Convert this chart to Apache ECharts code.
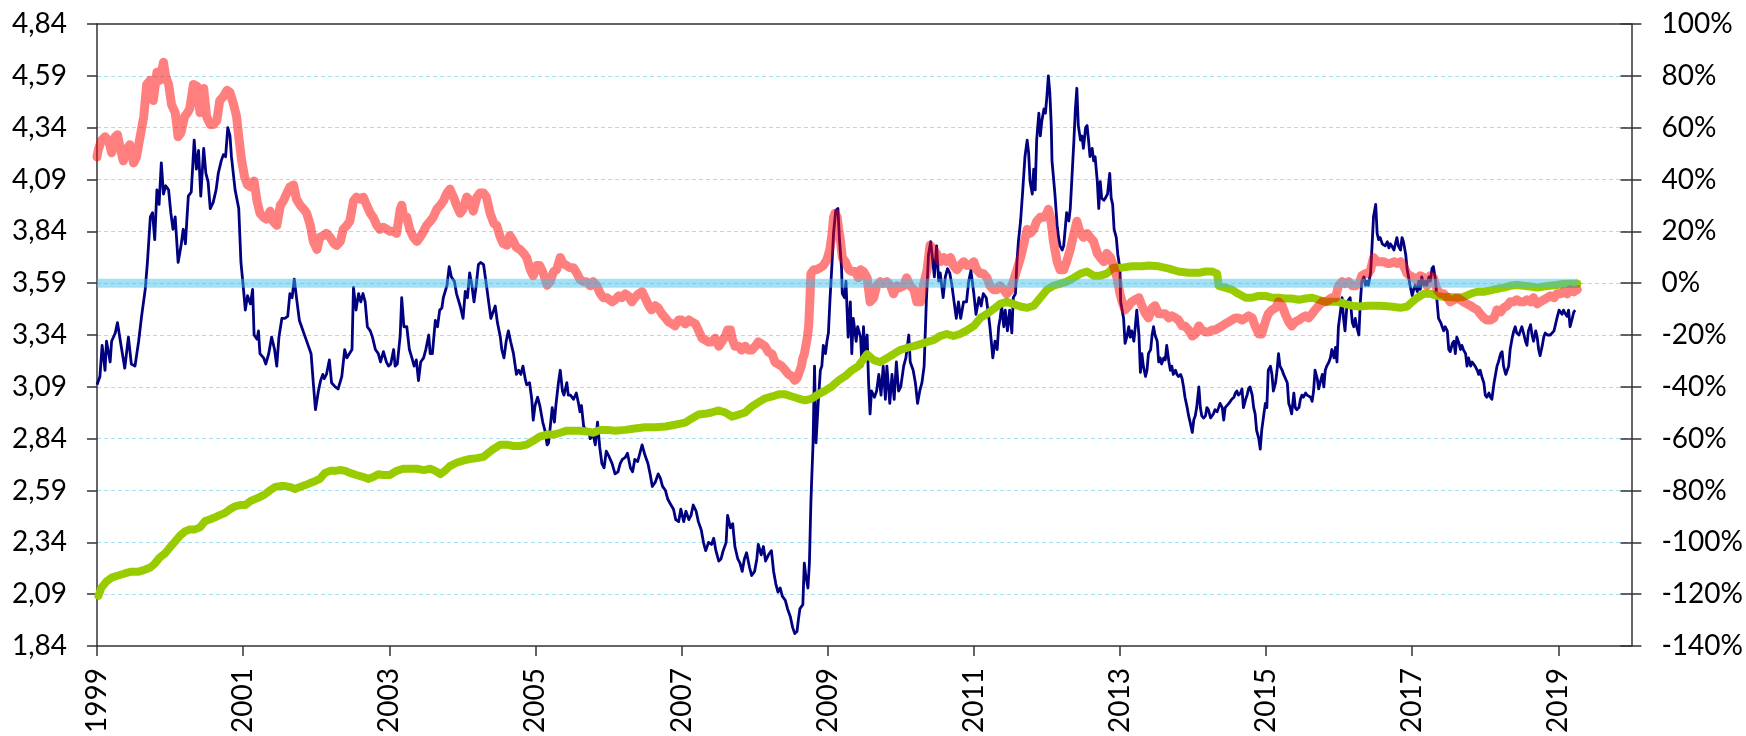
<!DOCTYPE html>
<html><head><meta charset="utf-8">
<script src="https://cdn.jsdelivr.net/npm/echarts@6/dist/echarts.min.js"></script>
<style>html,body{margin:0;padding:0;background:#fff}#c{width:1746px;height:736px}</style>
</head><body><div id="c"></div>
<script>
const yearTicks = [1999, 2001, 2003, 2005, 2007, 2009, 2011, 2013, 2015, 2017, 2019];
const leftTicks = [1.84, 2.09, 2.34, 2.59, 2.84, 3.09, 3.34, 3.59, 3.84, 4.09, 4.34, 4.59, 4.84];
const rightTicks = [-140, -120, -100, -80, -60, -40, -20, 0, 20, 40, 60, 80, 100];

// dark blue series (left axis)
const navy = [
[1999.0,3.10],[1999.04,3.14],[1999.07,3.29],[1999.11,3.17],[1999.13,3.31],[1999.18,3.21],[1999.20,3.31],[1999.25,3.35],[1999.28,3.40],[1999.32,3.31],[1999.38,3.18],[1999.43,3.33],[1999.47,3.20],[1999.52,3.19],[1999.57,3.31],[1999.61,3.43],[1999.66,3.56],[1999.69,3.69],[1999.73,3.91],[1999.76,3.93],[1999.79,3.80],[1999.82,4.04],[1999.85,3.97],[1999.88,4.17],[1999.91,4.02],[1999.94,4.06],[1999.98,4.04],
[2000.01,3.93],[2000.04,3.85],[2000.07,3.91],[2000.11,3.69],[2000.15,3.77],[2000.18,3.85],[2000.21,3.78],[2000.25,4.01],[2000.29,4.03],[2000.33,4.28],[2000.36,4.14],[2000.39,4.23],[2000.42,4.01],[2000.46,4.24],[2000.49,4.12],[2000.52,4.08],[2000.55,3.95],[2000.59,3.98],[2000.63,4.04],[2000.66,4.12],[2000.70,4.18],[2000.73,4.21],[2000.76,4.20],[2000.79,4.34],[2000.82,4.30],[2000.84,4.20],[2000.89,4.04],[2000.94,3.95],[2000.97,3.69],
[2001.00,3.58],[2001.03,3.46],[2001.06,3.53],[2001.10,3.49],[2001.13,3.56],[2001.15,3.34],[2001.19,3.32],[2001.21,3.36],[2001.23,3.25],[2001.28,3.23],[2001.31,3.20],[2001.35,3.25],[2001.39,3.33],[2001.43,3.27],[2001.46,3.19],[2001.49,3.33],[2001.53,3.42],[2001.57,3.42],[2001.61,3.43],[2001.64,3.54],[2001.67,3.52],[2001.70,3.61],[2001.73,3.52],[2001.77,3.41],[2001.80,3.38],[2001.85,3.33],[2001.89,3.29],[2001.93,3.25],[2001.96,3.11],[2001.99,2.98],
[2002.03,3.07],[2002.06,3.12],[2002.09,3.15],[2002.11,3.13],[2002.14,3.15],[2002.18,3.22],[2002.21,3.11],[2002.26,3.09],[2002.30,3.08],[2002.35,3.14],[2002.39,3.27],[2002.42,3.23],[2002.49,3.27],[2002.51,3.57],[2002.545,3.46],[2002.58,3.54],[2002.61,3.50],[2002.64,3.54],[2002.67,3.50],[2002.70,3.38],[2002.74,3.36],[2002.77,3.33],[2002.81,3.27],[2002.85,3.25],[2002.88,3.21],[2002.92,3.26],[2002.96,3.21],[2002.99,3.19],
[2003.02,3.20],[2003.06,3.27],[2003.08,3.19],[2003.11,3.20],[2003.15,3.34],[2003.17,3.52],[2003.20,3.38],[2003.24,3.38],[2003.275,3.27],[2003.31,3.23],[2003.34,3.19],[2003.37,3.22],[2003.40,3.12],[2003.43,3.21],[2003.47,3.23],[2003.50,3.27],[2003.54,3.34],[2003.56,3.25],[2003.59,3.25],[2003.63,3.41],[2003.66,3.38],[2003.69,3.46],[2003.72,3.47],[2003.74,3.52],[2003.79,3.58],[2003.82,3.67],[2003.85,3.62],[2003.89,3.60],[2003.92,3.54],[2003.97,3.48],
[2004.01,3.42],[2004.04,3.55],[2004.07,3.52],[2004.10,3.64],[2004.13,3.58],[2004.16,3.50],[2004.19,3.58],[2004.22,3.68],[2004.25,3.69],[2004.29,3.68],[2004.33,3.58],[2004.36,3.50],[2004.39,3.42],[2004.43,3.46],[2004.45,3.48],[2004.48,3.40],[2004.52,3.33],[2004.54,3.27],[2004.57,3.23],[2004.60,3.31],[2004.63,3.36],[2004.66,3.31],[2004.70,3.25],[2004.74,3.15],[2004.77,3.17],[2004.80,3.15],[2004.83,3.19],[2004.86,3.13],[2004.88,3.10],[2004.92,3.11],[2004.95,3.03],[2004.97,2.93],[2004.995,3.00],
[2005.03,3.04],[2005.06,3.00],[2005.10,2.92],[2005.13,2.88],[2005.16,2.81],[2005.18,2.82],[2005.21,2.92],[2005.23,2.99],[2005.26,2.92],[2005.28,3.00],[2005.315,3.11],[2005.34,3.17],[2005.37,3.07],[2005.39,3.05],[2005.43,3.11],[2005.45,3.05],[2005.48,3.05],[2005.52,3.03],[2005.56,3.06],[2005.59,3.01],[2005.61,2.97],[2005.63,3.00],[2005.66,2.90],[2005.69,2.88],[2005.73,2.88],[2005.75,2.84],[2005.79,2.86],[2005.82,2.81],[2005.85,2.92],[2005.88,2.80],[2005.91,2.72],[2005.94,2.70],[2005.97,2.78],[2006.00,2.76],[2006.05,2.72],
[2006.09,2.67],[2006.13,2.68],[2006.16,2.72],[2006.19,2.74],[2006.23,2.75],[2006.26,2.77],[2006.30,2.70],[2006.33,2.68],[2006.36,2.74],[2006.40,2.73],[2006.43,2.77],[2006.46,2.81],[2006.50,2.76],[2006.54,2.72],[2006.57,2.67],[2006.60,2.61],[2006.64,2.63],[2006.68,2.67],[2006.71,2.65],[2006.74,2.61],[2006.78,2.59],[2006.81,2.55],[2006.84,2.53],[2006.89,2.50],[2006.92,2.45],[2006.96,2.44],[2006.99,2.50],
[2007.03,2.44],[2007.06,2.49],[2007.10,2.45],[2007.13,2.47],[2007.16,2.52],[2007.20,2.49],[2007.23,2.44],[2007.27,2.40],[2007.30,2.34],[2007.33,2.30],[2007.37,2.34],[2007.41,2.33],[2007.44,2.36],[2007.47,2.30],[2007.51,2.25],[2007.54,2.26],[2007.57,2.30],[2007.61,2.34],[2007.63,2.47],[2007.67,2.41],[2007.70,2.43],[2007.73,2.32],[2007.77,2.26],[2007.80,2.24],[2007.83,2.20],[2007.86,2.26],[2007.89,2.29],[2007.93,2.22],[2007.96,2.18],
[2008.00,2.20],[2008.03,2.26],[2008.05,2.33],[2008.09,2.28],[2008.12,2.32],[2008.15,2.25],[2008.19,2.28],[2008.23,2.30],[2008.26,2.20],[2008.29,2.14],[2008.32,2.10],[2008.35,2.12],[2008.38,2.08],[2008.42,2.06],[2008.45,2.02],[2008.49,1.98],[2008.52,1.93],[2008.55,1.90],[2008.58,1.91],[2008.60,1.97],[2008.62,2.02],[2008.66,2.04],[2008.68,2.24],[2008.70,2.18],[2008.73,2.12],[2008.75,2.24],[2008.77,2.53],[2008.78,2.63],[2008.80,2.82],[2008.82,3.19],[2008.84,2.82],[2008.87,3.01],[2008.90,3.17],[2008.92,3.19],[2008.94,3.29],[2008.97,3.25],[2008.99,3.31],
[2009.01,3.35],[2009.03,3.50],[2009.06,3.69],[2009.08,3.83],[2009.11,3.94],[2009.14,3.95],[2009.16,3.81],[2009.19,3.66],[2009.20,3.54],[2009.23,3.52],[2009.25,3.60],[2009.28,3.33],[2009.31,3.50],[2009.33,3.25],[2009.35,3.42],[2009.39,3.31],[2009.41,3.38],[2009.45,3.33],[2009.47,3.19],[2009.49,3.38],[2009.51,3.25],[2009.54,3.34],[2009.56,3.11],[2009.58,2.96],[2009.60,3.07],[2009.64,3.04],[2009.67,3.07],[2009.70,3.15],[2009.73,3.05],[2009.76,3.19],[2009.79,3.03],[2009.81,3.19],[2009.85,3.01],[2009.88,3.15],[2009.91,3.03],[2009.94,3.21],[2009.97,3.07],
[2010.00,3.09],[2010.04,3.19],[2010.07,3.23],[2010.11,3.34],[2010.13,3.21],[2010.17,3.17],[2010.20,3.11],[2010.23,3.01],[2010.26,3.07],[2010.29,3.11],[2010.32,3.19],[2010.35,3.50],[2010.38,3.73],[2010.41,3.79],[2010.44,3.69],[2010.46,3.62],[2010.49,3.77],[2010.52,3.60],[2010.54,3.64],[2010.58,3.52],[2010.61,3.62],[2010.64,3.66],[2010.67,3.64],[2010.70,3.58],[2010.73,3.50],[2010.76,3.42],[2010.79,3.50],[2010.82,3.42],[2010.86,3.50],[2010.90,3.50],[2010.93,3.60],[2010.96,3.65],
[2011.00,3.54],[2011.03,3.44],[2011.07,3.52],[2011.10,3.48],[2011.13,3.54],[2011.17,3.52],[2011.20,3.44],[2011.22,3.38],[2011.25,3.27],[2011.26,3.23],[2011.29,3.31],[2011.32,3.27],[2011.34,3.38],[2011.36,3.42],[2011.38,3.48],[2011.41,3.38],[2011.43,3.46],[2011.46,3.36],[2011.49,3.46],[2011.52,3.35],[2011.54,3.52],[2011.57,3.54],[2011.59,3.69],[2011.61,3.79],[2011.64,3.89],[2011.67,4.04],[2011.70,4.20],[2011.73,4.28],[2011.75,4.22],[2011.77,4.08],[2011.80,4.02],[2011.82,4.14],[2011.84,4.04],[2011.86,4.28],[2011.89,4.41],[2011.91,4.30],[2011.93,4.37],[2011.96,4.43],[2011.98,4.41],
[2012.00,4.49],[2012.02,4.59],[2012.04,4.51],[2012.06,4.35],[2012.07,4.18],[2012.09,4.10],[2012.11,4.02],[2012.14,3.87],[2012.16,3.81],[2012.18,3.77],[2012.21,3.75],[2012.23,3.77],[2012.25,3.85],[2012.27,3.93],[2012.30,3.89],[2012.32,3.95],[2012.34,4.08],[2012.37,4.28],[2012.39,4.43],[2012.41,4.53],[2012.43,4.35],[2012.46,4.28],[2012.48,4.30],[2012.50,4.24],[2012.53,4.34],[2012.55,4.35],[2012.57,4.28],[2012.59,4.20],[2012.62,4.24],[2012.64,4.18],[2012.66,4.20],[2012.69,4.08],[2012.71,3.95],[2012.73,4.08],[2012.75,4.00],[2012.78,3.99],[2012.80,4.00],[2012.83,4.02],[2012.86,4.12],[2012.88,4.00],[2012.90,3.97],[2012.92,3.85],[2012.95,3.81],[2012.97,3.73],
[2013.00,3.66],[2013.01,3.50],[2013.03,3.46],[2013.05,3.42],[2013.07,3.30],[2013.10,3.34],[2013.12,3.38],[2013.14,3.33],[2013.16,3.36],[2013.19,3.31],[2013.21,3.38],[2013.23,3.46],[2013.26,3.34],[2013.28,3.16],[2013.30,3.25],[2013.32,3.19],[2013.35,3.14],[2013.37,3.17],[2013.39,3.25],[2013.42,3.27],[2013.44,3.34],[2013.46,3.38],[2013.48,3.34],[2013.51,3.31],[2013.53,3.21],[2013.55,3.23],[2013.57,3.20],[2013.60,3.23],[2013.62,3.22],[2013.64,3.29],[2013.67,3.21],[2013.69,3.17],[2013.71,3.19],[2013.73,3.15],[2013.76,3.17],[2013.78,3.15],[2013.80,3.14],[2013.83,3.15],[2013.85,3.13],[2013.87,3.09],[2013.89,3.04],[2013.92,2.99],[2013.94,2.95],[2013.96,2.92],[2013.99,2.87],
[2014.01,2.93],[2014.03,2.95],[2014.05,2.99],[2014.08,3.09],[2014.10,2.99],[2014.12,2.95],[2014.145,2.94],[2014.17,2.95],[2014.19,2.99],[2014.21,2.98],[2014.24,2.94],[2014.26,2.95],[2014.28,2.96],[2014.30,2.98],[2014.33,2.97],[2014.35,2.99],[2014.37,3.01],[2014.40,2.99],[2014.42,2.93],[2014.44,2.99],[2014.46,2.99],[2014.49,3.01],[2014.51,3.02],[2014.53,3.03],[2014.56,3.04],[2014.58,3.06],[2014.60,3.07],[2014.62,3.05],[2014.65,3.06],[2014.67,3.08],[2014.69,2.99],[2014.72,3.03],[2014.74,3.05],[2014.76,3.08],[2014.78,3.09],[2014.81,3.05],[2014.83,2.99],[2014.85,2.96],[2014.87,2.88],[2014.90,2.84],[2014.92,2.79],[2014.94,2.88],[2014.97,2.96],[2014.99,3.01],
[2015.01,2.99],[2015.03,3.17],[2015.06,3.19],[2015.08,3.15],[2015.10,3.07],[2015.13,3.11],[2015.15,3.17],[2015.17,3.25],[2015.19,3.19],[2015.22,3.17],[2015.24,3.15],[2015.26,3.15],[2015.29,3.11],[2015.31,3.01],[2015.33,2.99],[2015.35,2.96],[2015.38,3.06],[2015.40,2.99],[2015.42,2.98],[2015.45,2.99],[2015.47,3.03],[2015.49,3.05],[2015.51,3.04],[2015.54,3.06],[2015.56,3.05],[2015.58,3.05],[2015.61,3.04],[2015.63,3.02],[2015.65,3.07],[2015.67,3.17],[2015.70,3.13],[2015.72,3.08],[2015.74,3.11],[2015.77,3.15],[2015.79,3.09],[2015.81,3.17],[2015.83,3.19],[2015.86,3.21],[2015.88,3.23],[2015.90,3.27],[2015.93,3.23],[2015.95,3.28],[2015.97,3.21],[2015.99,3.38],
[2016.02,3.46],[2016.04,3.52],[2016.06,3.42],[2016.08,3.36],[2016.11,3.50],[2016.13,3.50],[2016.15,3.52],[2016.18,3.40],[2016.20,3.38],[2016.22,3.42],[2016.24,3.38],[2016.27,3.34],[2016.29,3.50],[2016.31,3.60],[2016.34,3.62],[2016.36,3.58],[2016.38,3.60],[2016.40,3.58],[2016.43,3.64],[2016.45,3.77],[2016.47,3.91],[2016.50,3.97],[2016.52,3.83],[2016.54,3.80],[2016.56,3.81],[2016.59,3.78],[2016.61,3.78],[2016.63,3.77],[2016.66,3.79],[2016.68,3.76],[2016.70,3.78],[2016.72,3.77],[2016.75,3.75],[2016.77,3.78],[2016.79,3.81],[2016.81,3.77],[2016.84,3.75],[2016.86,3.81],[2016.88,3.79],[2016.91,3.73],[2016.93,3.66],[2016.95,3.62],[2016.97,3.58],
[2017.00,3.53],[2017.02,3.56],[2017.04,3.58],[2017.07,3.55],[2017.09,3.60],[2017.11,3.56],[2017.13,3.62],[2017.16,3.58],[2017.18,3.60],[2017.20,3.58],[2017.23,3.62],[2017.25,3.60],[2017.27,3.66],[2017.29,3.67],[2017.32,3.60],[2017.34,3.50],[2017.36,3.42],[2017.39,3.40],[2017.41,3.38],[2017.43,3.36],[2017.45,3.38],[2017.48,3.36],[2017.50,3.27],[2017.52,3.26],[2017.55,3.30],[2017.57,3.31],[2017.59,3.25],[2017.61,3.33],[2017.64,3.30],[2017.66,3.27],[2017.68,3.29],[2017.70,3.27],[2017.73,3.25],[2017.75,3.19],[2017.77,3.23],[2017.80,3.19],[2017.82,3.21],[2017.84,3.20],[2017.86,3.19],[2017.89,3.17],[2017.91,3.15],[2017.93,3.17],[2017.96,3.13],[2017.98,3.11],
[2018.00,3.05],[2018.02,3.04],[2018.05,3.06],[2018.07,3.04],[2018.09,3.03],[2018.12,3.11],[2018.14,3.15],[2018.16,3.19],[2018.18,3.21],[2018.21,3.25],[2018.23,3.26],[2018.25,3.19],[2018.28,3.15],[2018.30,3.15],[2018.32,3.19],[2018.34,3.27],[2018.37,3.33],[2018.39,3.36],[2018.41,3.38],[2018.43,3.35],[2018.46,3.34],[2018.48,3.36],[2018.50,3.38],[2018.53,3.34],[2018.55,3.31],[2018.57,3.29],[2018.59,3.36],[2018.62,3.39],[2018.64,3.34],[2018.66,3.31],[2018.69,3.36],[2018.71,3.33],[2018.73,3.27],[2018.75,3.24],[2018.78,3.29],[2018.80,3.33],[2018.82,3.35],[2018.85,3.34],[2018.87,3.34],[2018.89,3.34],[2018.91,3.34],[2018.94,3.36],[2018.96,3.39],[2018.98,3.42],
[2019.01,3.46],[2019.03,3.45],[2019.05,3.44],[2019.07,3.46],[2019.10,3.44],[2019.12,3.43],[2019.14,3.46],[2019.16,3.38],[2019.19,3.42],[2019.21,3.45],[2019.23,3.46]
];

// salmon series (right axis, %)
const salmon = [
[1999.0,48.7],[1999.02,51.8],[1999.06,55.0],[1999.11,56.5],[1999.16,55.0],[1999.20,50.3],[1999.25,56.5],[1999.28,57.3],[1999.32,51.8],[1999.36,47.2],[1999.41,51.8],[1999.45,53.4],[1999.50,46.4],[1999.54,48.7],[1999.59,56.5],[1999.64,64.3],[1999.68,76.7],[1999.73,78.3],[1999.77,70.5],[1999.82,81.4],[1999.86,78.3],[1999.91,85.2],[1999.94,79.8],[1999.98,76.7],
[2000.02,68.9],[2000.07,65.8],[2000.11,56.5],[2000.15,58.1],[2000.20,64.3],[2000.24,65.8],[2000.27,67.4],[2000.32,76.7],[2000.37,75.9],[2000.41,65.8],[2000.46,75.1],[2000.50,64.3],[2000.55,61.2],[2000.59,61.2],[2000.64,62.7],[2000.68,70.5],[2000.73,72.0],[2000.78,74.4],[2000.82,73.6],[2000.87,68.9],[2000.91,64.3],[2000.94,56.5],[2000.98,47.2],
[2001.02,41.0],[2001.06,37.9],[2001.11,37.1],[2001.15,39.4],[2001.19,31.7],[2001.23,27.0],[2001.28,25.4],[2001.32,24.7],[2001.37,27.8],[2001.41,23.9],[2001.46,22.3],[2001.51,30.1],[2001.55,31.7],[2001.60,34.8],[2001.64,37.1],[2001.69,37.9],[2001.73,32.4],[2001.78,30.1],[2001.83,28.5],[2001.87,27.0],[2001.92,22.3],[2001.96,16.1],
[2002.01,13.0],[2002.05,17.7],[2002.10,18.4],[2002.14,19.2],[2002.19,17.7],[2002.24,15.3],[2002.28,14.6],[2002.33,16.1],[2002.37,20.8],[2002.42,22.3],[2002.46,23.9],[2002.51,31.7],[2002.55,33.2],[2002.60,32.4],[2002.645,33.2],[2002.69,30.1],[2002.74,27.0],[2002.78,25.4],[2002.83,22.3],[2002.87,20.8],[2002.92,21.6],[2002.965,20.8],
[2003.01,20.0],[2003.06,20.0],[2003.10,19.2],[2003.15,28.5],[2003.17,30.1],[2003.20,25.4],[2003.24,25.4],[2003.28,20.8],[2003.33,17.7],[2003.38,16.1],[2003.42,17.7],[2003.47,20.0],[2003.51,22.3],[2003.56,23.9],[2003.60,25.4],[2003.65,28.5],[2003.70,30.1],[2003.74,31.7],[2003.79,34.8],[2003.83,36.3],[2003.88,33.2],[2003.92,30.1],[2003.97,27.0],
[2004.01,28.5],[2004.06,33.2],[2004.11,31.7],[2004.15,27.8],[2004.20,33.2],[2004.24,34.8],[2004.29,34.8],[2004.33,33.2],[2004.38,27.0],[2004.43,23.1],[2004.47,22.3],[2004.52,17.7],[2004.56,15.3],[2004.61,14.6],[2004.65,18.4],[2004.70,16.1],[2004.74,13.8],[2004.79,13.0],[2004.84,11.5],[2004.88,9.9],[2004.93,5.2],[2004.97,2.9],
[2005.02,6.8],[2005.06,6.8],[2005.11,3.7],[2005.16,-0.8],[2005.20,0.6],[2005.25,4.5],[2005.29,5.2],[2005.34,9.9],[2005.38,7.6],[2005.43,6.8],[2005.47,6.0],[2005.52,6.0],[2005.57,3.7],[2005.61,1.4],[2005.66,0.6],[2005.70,0.6],[2005.75,-1.0],[2005.79,0.6],[2005.84,-1.0],[2005.89,-4.1],[2005.93,-5.6],[2005.98,-5.6],[2006.05,-7.2],
[2006.09,-6.4],[2006.14,-4.9],[2006.18,-5.6],[2006.23,-4.1],[2006.27,-4.9],[2006.32,-7.2],[2006.36,-5.6],[2006.41,-4.1],[2006.46,-3.3],[2006.50,-5.6],[2006.55,-8.7],[2006.59,-10.3],[2006.64,-8.7],[2006.68,-9.5],[2006.73,-11.8],[2006.78,-13.4],[2006.82,-14.9],[2006.87,-15.7],[2006.91,-16.5],[2006.96,-14.2],
[2007.00,-14.2],[2007.05,-15.7],[2007.10,-14.2],[2007.14,-14.9],[2007.19,-15.7],[2007.23,-18.1],[2007.28,-21.2],[2007.32,-21.9],[2007.37,-22.7],[2007.41,-22.7],[2007.46,-21.2],[2007.51,-24.3],[2007.55,-22.7],[2007.60,-20.4],[2007.63,-18.1],[2007.67,-18.1],[2007.69,-21.2],[2007.73,-24.3],[2007.78,-24.3],[2007.82,-25.8],[2007.87,-24.3],[2007.92,-25.8],[2007.96,-25.8],
[2008.01,-24.3],[2008.05,-22.7],[2008.10,-23.5],[2008.14,-24.3],[2008.19,-26.6],[2008.24,-27.4],[2008.28,-30.5],[2008.33,-31.3],[2008.37,-32.0],[2008.42,-33.6],[2008.46,-35.1],[2008.51,-35.9],[2008.55,-37.5],[2008.58,-36.7],[2008.61,-34.4],[2008.64,-32.0],[2008.66,-28.9],[2008.68,-27.4],[2008.70,-27.4],[2008.72,-21.2],[2008.74,-16.5],[2008.75,-10.3],[2008.76,-4.1],[2008.77,3.7],[2008.81,5.2],[2008.85,5.2],[2008.90,6.0],[2008.94,6.8],[2008.99,9.1],
[2009.03,13.0],[2009.06,19.2],[2009.08,25.4],[2009.10,27.0],[2009.13,25.4],[2009.15,20.8],[2009.17,17.7],[2009.20,9.9],[2009.24,8.3],[2009.29,5.2],[2009.33,4.5],[2009.38,4.5],[2009.42,2.1],[2009.45,5.2],[2009.49,4.5],[2009.54,2.1],[2009.58,-7.2],[2009.63,-5.6],[2009.67,-1.0],[2009.72,0.6],[2009.76,-0.2],[2009.81,0.6],[2009.86,-1.0],[2009.90,-4.1],[2009.95,-1.0],[2009.99,-1.7],
[2010.04,-1.0],[2010.08,2.1],[2010.13,-1.0],[2010.18,-2.5],[2010.22,-7.2],[2010.27,-7.2],[2010.31,-1.0],[2010.36,5.2],[2010.40,14.6],[2010.45,13.0],[2010.49,11.5],[2010.54,8.3],[2010.59,9.9],[2010.63,8.3],[2010.68,9.9],[2010.72,6.8],[2010.77,5.2],[2010.81,6.8],[2010.86,8.3],[2010.91,6.8],[2010.95,6.8],
[2011.00,8.3],[2011.04,5.2],[2011.09,3.7],[2011.13,3.7],[2011.18,2.1],[2011.22,-1.0],[2011.27,-2.5],[2011.32,-2.5],[2011.36,-1.0],[2011.41,-2.5],[2011.45,-4.1],[2011.50,-2.5],[2011.54,0.6],[2011.59,5.2],[2011.64,9.9],[2011.68,14.6],[2011.73,20.8],[2011.77,19.2],[2011.82,20.8],[2011.86,23.9],[2011.91,25.4],[2011.96,25.4],
[2012.00,27.0],[2012.02,28.5],[2012.05,25.4],[2012.09,16.1],[2012.14,8.3],[2012.18,5.2],[2012.23,5.2],[2012.27,8.3],[2012.32,13.0],[2012.37,19.2],[2012.41,23.9],[2012.46,19.2],[2012.50,17.7],[2012.55,19.2],[2012.59,17.7],[2012.64,16.1],[2012.69,11.5],[2012.73,9.9],[2012.78,8.3],[2012.82,11.5],[2012.87,9.9],[2012.91,6.8],[2012.96,2.1],
[2013.00,-4.1],[2013.03,-7.2],[2013.07,-10.3],[2013.12,-8.7],[2013.16,-7.2],[2013.21,-6.4],[2013.26,-5.6],[2013.30,-8.7],[2013.35,-11.8],[2013.39,-13.4],[2013.44,-9.5],[2013.48,-8.7],[2013.53,-11.8],[2013.57,-11.8],[2013.62,-11.8],[2013.67,-13.4],[2013.71,-12.6],[2013.76,-13.4],[2013.80,-14.2],[2013.85,-16.5],[2013.89,-16.5],[2013.94,-18.1],[2013.99,-20.4],
[2014.03,-19.6],[2014.08,-16.5],[2014.12,-18.1],[2014.17,-18.8],[2014.21,-18.8],[2014.26,-18.1],[2014.30,-18.1],[2014.35,-17.3],[2014.40,-16.5],[2014.44,-15.7],[2014.49,-14.9],[2014.53,-14.2],[2014.58,-13.4],[2014.62,-13.4],[2014.67,-14.2],[2014.72,-13.4],[2014.76,-12.6],[2014.81,-13.4],[2014.85,-16.5],[2014.90,-19.6],[2014.94,-19.6],[2014.99,-14.9],
[2015.03,-11.8],[2015.08,-10.3],[2015.13,-9.5],[2015.17,-7.2],[2015.22,-8.7],[2015.26,-11.8],[2015.31,-14.9],[2015.35,-16.5],[2015.40,-14.9],[2015.45,-14.2],[2015.49,-13.4],[2015.54,-12.6],[2015.58,-13.4],[2015.63,-11.8],[2015.67,-10.3],[2015.72,-8.7],[2015.77,-7.2],[2015.81,-7.2],[2015.86,-6.4],[2015.90,-5.6],[2015.95,-5.6],[2015.99,-1.0],
[2016.04,0.6],[2016.08,-0.2],[2016.13,0.6],[2016.18,-1.0],[2016.22,-1.0],[2016.27,-0.2],[2016.31,2.9],[2016.36,3.7],[2016.40,3.7],[2016.43,5.2],[2016.47,9.9],[2016.52,8.3],[2016.56,8.3],[2016.61,8.3],[2016.66,7.6],[2016.70,7.6],[2016.75,8.3],[2016.79,7.6],[2016.84,8.3],[2016.88,6.8],[2016.93,3.7],[2016.97,2.9],
[2017.02,2.1],[2017.07,0.6],[2017.11,2.9],[2017.16,2.1],[2017.20,-1.0],[2017.25,2.9],[2017.29,2.1],[2017.34,-2.5],[2017.39,-4.1],[2017.43,-4.1],[2017.48,-5.6],[2017.52,-7.2],[2017.57,-6.4],[2017.61,-5.6],[2017.66,-6.4],[2017.70,-7.2],[2017.75,-8.0],[2017.80,-8.7],[2017.84,-9.5],[2017.89,-10.3],[2017.93,-11.8],[2017.98,-13.4],
[2018.02,-14.2],[2018.07,-14.2],[2018.12,-13.4],[2018.16,-10.3],[2018.21,-11.1],[2018.25,-9.5],[2018.30,-8.7],[2018.34,-7.2],[2018.39,-7.2],[2018.43,-6.4],[2018.48,-7.2],[2018.53,-7.2],[2018.57,-6.4],[2018.62,-7.2],[2018.66,-5.6],[2018.71,-8.0],[2018.75,-7.2],[2018.80,-6.4],[2018.85,-5.6],[2018.89,-4.9],[2018.94,-5.6],[2018.98,-4.1],
[2019.03,-4.1],[2019.07,-3.3],[2019.12,-4.1],[2019.16,-2.5],[2019.21,-3.3],[2019.26,-2.5]
];

// green series (right axis, %)
const green = [
[1999.02,-120.6],[1999.06,-117.5],[1999.13,-115.1],[1999.20,-113.6],[1999.29,-112.8],[1999.38,-112.0],[1999.47,-111.3],[1999.57,-111.3],[1999.66,-110.5],[1999.73,-109.7],[1999.79,-108.2],[1999.86,-105.8],[1999.93,-104.3],
[2000.00,-101.9],[2000.07,-99.6],[2000.14,-97.3],[2000.21,-95.7],[2000.27,-95.0],[2000.34,-95.0],[2000.41,-94.2],[2000.48,-91.8],[2000.55,-91.1],[2000.62,-90.3],[2000.68,-89.5],[2000.75,-88.7],[2000.82,-87.2],[2000.89,-86.1],[2000.96,-85.6],
[2001.03,-85.6],[2001.10,-84.1],[2001.16,-83.3],[2001.23,-82.5],[2001.30,-81.4],[2001.37,-79.9],[2001.44,-78.6],[2001.51,-78.3],[2001.57,-78.3],[2001.64,-78.6],[2001.71,-79.4],[2001.78,-78.6],[2001.85,-77.9],[2001.92,-77.1],[2001.99,-76.3],
[2002.05,-75.5],[2002.12,-73.2],[2002.19,-72.4],[2002.26,-72.4],[2002.33,-72.1],[2002.40,-72.4],[2002.46,-73.2],[2002.55,-74.0],[2002.65,-74.8],[2002.71,-75.5],[2002.78,-74.8],[2002.85,-73.7],[2002.92,-74.0],
[2003.01,-74.0],[2003.10,-72.4],[2003.19,-71.6],[2003.28,-71.6],[2003.38,-71.6],[2003.47,-72.1],[2003.56,-71.6],[2003.63,-72.4],[2003.70,-73.7],[2003.76,-72.4],[2003.83,-70.6],[2003.92,-69.3],
[2004.01,-68.5],[2004.11,-67.8],[2004.20,-67.5],[2004.29,-67.0],[2004.36,-65.4],[2004.43,-63.9],[2004.52,-62.3],[2004.61,-62.3],[2004.70,-62.8],[2004.79,-62.8],[2004.88,-62.3],[2004.97,-60.8],
[2005.06,-59.2],[2005.16,-58.4],[2005.25,-58.4],[2005.34,-57.7],[2005.43,-56.9],[2005.52,-56.9],[2005.61,-56.9],[2005.70,-57.2],[2005.79,-57.7],[2005.89,-56.6],[2005.98,-56.6],
[2006.09,-56.9],[2006.23,-56.6],[2006.36,-56.1],[2006.50,-55.6],[2006.64,-55.6],[2006.78,-55.3],[2006.91,-54.6],
[2007.05,-53.8],[2007.14,-52.2],[2007.23,-50.7],[2007.32,-50.4],[2007.41,-49.9],[2007.51,-49.1],[2007.60,-49.9],[2007.69,-51.5],[2007.78,-50.7],[2007.87,-49.9],[2007.96,-47.6],
[2008.05,-46.0],[2008.14,-44.5],[2008.24,-43.7],[2008.33,-42.9],[2008.42,-42.9],[2008.51,-43.7],[2008.60,-44.5],[2008.69,-45.2],[2008.78,-44.5],[2008.87,-42.9],[2008.97,-41.4],
[2009.06,-39.8],[2009.15,-37.5],[2009.24,-35.9],[2009.33,-33.6],[2009.42,-32.0],[2009.54,-27.4],[2009.63,-29.7],[2009.72,-30.5],[2009.81,-28.9],[2009.90,-27.4],[2009.99,-25.8],
[2010.08,-25.0],[2010.18,-24.3],[2010.27,-23.5],[2010.36,-22.7],[2010.45,-21.9],[2010.54,-20.4],[2010.63,-19.6],[2010.72,-20.4],[2010.81,-19.6],[2010.91,-18.1],
[2011.00,-16.5],[2011.09,-13.4],[2011.18,-11.8],[2011.27,-10.0],[2011.36,-8.0],[2011.45,-7.2],[2011.54,-8.0],[2011.64,-9.0],[2011.73,-9.5],[2011.82,-8.7],[2011.91,-5.6],
[2012.00,-2.5],[2012.09,-1.0],[2012.18,-0.2],[2012.27,0.6],[2012.37,2.1],[2012.46,3.7],[2012.55,4.5],[2012.64,2.9],[2012.73,2.9],[2012.82,3.7],[2012.91,6.0],
[2013.03,6.0],[2013.16,6.5],[2013.30,6.5],[2013.39,6.8],[2013.53,6.5],[2013.67,5.6],[2013.80,4.5],[2013.94,4.0],
[2014.08,4.0],[2014.17,4.5],[2014.26,4.5],[2014.33,3.7],[2014.35,-1.0],[2014.44,-1.7],[2014.53,-2.5],[2014.62,-4.1],[2014.72,-5.6],[2014.81,-5.6],[2014.90,-4.9],[2014.99,-4.9],
[2015.08,-5.6],[2015.17,-5.6],[2015.26,-5.9],[2015.35,-5.9],[2015.45,-6.4],[2015.54,-5.9],[2015.63,-5.6],[2015.72,-6.4],[2015.81,-7.2],[2015.90,-7.2],[2015.99,-7.2],
[2016.08,-8.0],[2016.18,-8.7],[2016.27,-9.0],[2016.40,-8.7],[2016.56,-8.7],[2016.70,-9.0],[2016.84,-9.5],[2016.93,-9.0],
[2017.00,-7.2],[2017.07,-5.6],[2017.16,-4.1],[2017.25,-4.1],[2017.34,-4.9],[2017.43,-5.3],[2017.52,-5.3],[2017.61,-5.6],[2017.70,-5.3],[2017.80,-4.1],[2017.89,-3.3],[2017.98,-3.3],
[2018.07,-2.8],[2018.16,-2.2],[2018.25,-1.7],[2018.34,-1.0],[2018.43,-0.7],[2018.53,-1.0],[2018.62,-1.3],[2018.71,-1.7],[2018.80,-1.3],[2018.89,-1.0],[2018.98,-0.7],
[2019.07,-0.3],[2019.16,-0.2],[2019.26,-0.2]
];

// light blue reference band at 0 %
const zeroBand = [[1999.0, 0], [2019.27, 0]];

const FONT = 'Lato';
const TXT = '#000000';
const AX = '#333333';

const chart = echarts.init(document.getElementById('c'), null, {renderer: 'canvas'});
chart.setOption({
  animation: false,
  backgroundColor: '#ffffff',
  grid: {left: 97, right: 114, top: 24, bottom: 86, show: false},
  xAxis: [
    {
      type: 'value', position: 'bottom', min: yearTicks[0], max: 2020,
      axisLine: {show: true, onZero: false, lineStyle: {color: AX, width: 1.5}},
      axisTick: {show: true, customValues: yearTicks, length: 10, lineStyle: {color: AX, width: 1.5}},
      axisLabel: {customValues: yearTicks, rotate: 90, margin: 22, fontSize: 28, fontFamily: FONT, color: TXT, formatter: v => String(v)},
      splitLine: {show: false}
    },
    {
      type: 'value', position: 'top', min: yearTicks[0], max: 2020,
      axisLine: {show: true, onZero: false, lineStyle: {color: AX, width: 1.5}},
      axisTick: {show: false}, axisLabel: {show: false}, splitLine: {show: false}
    }
  ],
  yAxis: [
    {
      type: 'value', position: 'left', min: leftTicks[0], max: leftTicks[leftTicks.length - 1], interval: 0.25,
      axisLine: {show: true, lineStyle: {color: AX, width: 1.5}},
      axisTick: {show: true, inside: false, length: 10, lineStyle: {color: AX, width: 1.5}},
      axisLabel: {margin: 30, fontSize: 28, fontFamily: FONT, color: TXT, formatter: v => v.toFixed(2).replace('.', ',')},
      splitLine: {show: true, showMinLine: false, showMaxLine: false, lineStyle: {color: '#a6def4', width: 1, type: [4, 3]}}
    },
    {
      type: 'value', position: 'right', min: rightTicks[0], max: rightTicks[rightTicks.length - 1], interval: 20,
      axisLine: {show: true, lineStyle: {color: AX, width: 1.5}},
      axisTick: {show: true, inside: false, length: 10, lineStyle: {color: AX, width: 1.5}},
      axisLabel: {margin: 30, fontSize: 28, fontFamily: FONT, color: TXT, formatter: v => Math.round(v) + '%'},
      splitLine: {show: false}
    },
    {
      type: 'value', position: 'right', min: rightTicks[0], max: rightTicks[rightTicks.length - 1], interval: 20,
      axisLine: {show: false},
      axisTick: {show: true, inside: true, length: 11, lineStyle: {color: AX, width: 1.5}},
      axisLabel: {show: false},
      splitLine: {show: false}
    }
  ],
  series: [
    {name: 'navy', type: 'line', yAxisIndex: 0, data: navy, showSymbol: false, symbol: 'none',
     lineStyle: {color: '#000080', width: 2.8, join: 'round'}, z: 2},
    {name: 'green', type: 'line', yAxisIndex: 1, data: green, showSymbol: false, symbol: 'none',
     lineStyle: {color: '#99cc00', width: 8, cap: 'round', join: 'round'}, z: 3},
    {name: 'salmon', type: 'line', yAxisIndex: 1, data: salmon, showSymbol: false, symbol: 'none',
     lineStyle: {color: 'rgba(255,0,0,0.5)', width: 9, cap: 'round', join: 'round'}, z: 4},
    {name: 'zero', type: 'line', yAxisIndex: 1, data: zeroBand, showSymbol: false, symbol: 'none',
     lineStyle: {color: 'rgba(60,190,235,0.48)', width: 9, cap: 'butt'}, z: 5}
  ]
});
</script>
</body></html>
